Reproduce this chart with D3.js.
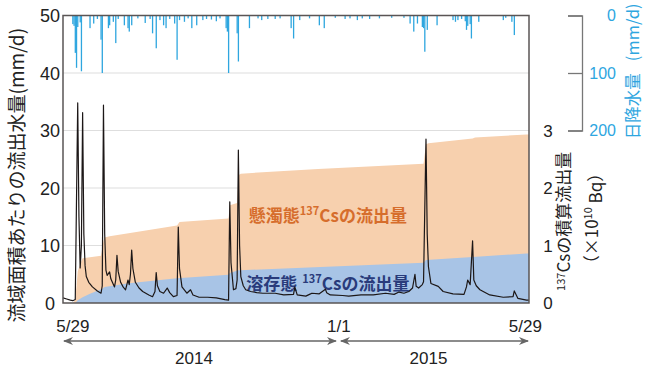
<!DOCTYPE html>
<html>
<head>
<meta charset="utf-8">
<script src="https://cdn.jsdelivr.net/npm/d3@7"></script>
<style>
  body { margin: 0; background: #fff; }
  svg { display: block; }
  text { font-family: "Liberation Sans", Arial, sans-serif; }
  .jp { font-family: "Noto Sans CJK JP", sans-serif; }
</style>
</head>
<body>
<div id="chart"></div>
<script>
// chart size and margins (plot box is 63..529 x 15.5..303)
const width = 650,
      height = 373,
      margin = {top: 15.5, right: 121, bottom: 70, left: 63};

const plotRight = width - margin.right,
      plotBottom = height - margin.bottom;

// day 0 = 2014-05-29
const startDate = new Date(2014, 4, 29);
const firstDay = -8, lastDay = 372;

// daily discharge per catchment area (mm/d), key days
const flowDay = [-8, -5, -2, 0, 2, 4, 5, 6, 7, 8, 9, 10, 11, 13, 16, 20, 23, 24, 25, 26, 27, 28, 30, 31, 34, 35, 36, 37, 39, 41, 43,
  45, 46, 47, 48, 49, 51, 54, 57, 62, 65, 67, 68, 69, 71, 74, 77, 79, 82, 85, 86, 87, 89, 93, 96, 98, 103, 110, 117, 124, 127,
  128, 129, 131, 133, 134, 135, 136, 137, 139, 141, 145, 150, 155, 165, 172, 180, 181, 183, 190, 193, 195, 201, 206, 207, 210,
  220, 225, 235, 245, 255, 262, 266, 270, 274, 277, 279, 280, 282, 285, 286, 288, 289, 290, 292, 298, 302, 310, 319, 321, 322,
  324, 326, 327, 329, 332, 340, 351, 359, 360, 363, 370, 372];
const flowValue = [0.9, 0.7, 0.5, 0.4, 0.6, 34.8, 15, 6.1, 10, 33.1, 12, 6.5, 4.6, 3.6, 2.8, 2.1, 1.7, 3, 34.4, 12, 5.7, 4.8, 5.4, 4.2, 2.8, 4, 8.3, 5.5, 3.6, 2.8, 2.3,
  4, 3.2, 5, 9.2, 6, 3.6, 2.6, 2, 1.4, 1.1, 2, 5.3, 3, 2, 1.7, 2.6, 1.8, 1.1, 1.3, 13.2, 6, 2.8, 1.7, 2.3, 1.4, 1, 1, 0.9, 0.6, 0.5,
  17.6, 7, 2.3, 2.5, 4, 26.6, 10, 4.6, 3, 2.3, 2, 1.8, 1.7, 1.7, 1.4, 1.5, 2.8, 1.4, 1.2, 1.5, 1.7, 1.6, 2.4, 1.8, 1.4,
  1.3, 1.2, 1.4, 1.4, 1.7, 1.5, 1.9, 1.7, 2, 2.6, 5, 2.9, 2.6, 3.2, 3.7, 28.5, 12, 6.3, 3.4, 2.9, 2, 1.6, 1.5, 2.8, 4,
  3.2, 10.8, 4, 3, 2.3, 1.4, 1, 1.1, 2.1, 0.8, 0.5, 0.5];

// cumulative 137Cs outflow (x10^10 Bq): total (suspended + dissolved) and dissolved
const totalDay = [0, 2, 4, 6, 8, 23, 25, 26, 30, 48, 85, 87, 127, 128, 134, 135, 137, 200, 286, 288, 290, 326, 328, 370, 372];
const totalValue = [0, 0.05, 0.55, 0.68, 0.78, 0.82, 1.08, 1.14, 1.16, 1.22, 1.35, 1.41, 1.47, 1.7, 1.74, 2.22, 2.25, 2.33, 2.42, 2.76, 2.78, 2.86, 2.88, 2.93, 2.93];
const dissolvedDay = [2, 4, 8, 14, 24, 26, 44, 85, 127, 128, 135, 137, 286, 288, 326, 370, 372];
const dissolvedValue = [0, 0.05, 0.1, 0.16, 0.25, 0.28, 0.34, 0.43, 0.49, 0.52, 0.57, 0.57, 0.7, 0.75, 0.8, 0.86, 0.86];

// daily precipitation (mm/d)
const rainDay = [0, 1, 2, 3, 4, 6, 7, 14, 17, 20, 23, 24, 29, 30, 33, 35, 37, 42, 45, 46, 48, 53, 59, 63, 65, 68, 71, 74, 76, 79,
  83, 85, 87, 91, 94, 97, 101, 106, 109, 113, 117, 120, 125, 126, 127, 134, 135, 144, 151, 154, 159, 165, 169, 178, 180, 185,
  193, 201, 205, 214, 222, 226, 232, 236, 242, 250, 260, 270, 275, 278, 281, 285, 286, 287, 289, 297, 310, 312, 314, 317, 320,
  321, 322, 324, 325, 331, 351, 353, 358, 360];
const rainValue = [15, 18, 65, 91, 20, 12, 97, 22, 14, 6, 42, 100, 22, 17, 11, 48, 6, 17, 22, 28, 17, 5, 13, 6, 31, 57, 8, 17, 22, 6,
  14, 77, 8, 11, 5, 22, 17, 8, 6, 7, 10, 5, 22, 28, 100, 31, 80, 22, 5, 8, 6, 6, 5, 22, 40, 8,
  5, 17, 22, 4, 6, 5, 8, 5, 6, 5, 4, 4, 14, 28, 14, 20, 22, 63, 25, 17, 8, 11, 8, 6, 10,
  25, 18, 15, 40, 11, 8, 4, 11, 34];

// tick values
const flowTicks = [0, 10, 20, 30, 40, 50];
const csTicks = [0, 1, 2, 3];
const rainTicks = [0, 100, 200];
const dateTicks = ["2014-05-29", "2015-01-01", "2015-05-29"];
const yearLabels = ["2014", "2015"];

const dayToDate = d => d3.timeDay.offset(startDate, d);
const parseDate = d3.timeParse("%Y-%m-%d");

const svg = d3.select("#chart")
  .append("svg")
    .attr("width", width)
    .attr("height", height)
    .attr("viewBox", "0 0 " + width + " " + height);

// scales (absolute page coordinates)
const xScale = d3.scaleTime()
  .domain([dayToDate(firstDay), dayToDate(lastDay)])
  .range([margin.left, plotRight]);

const yFlow = d3.scaleLinear().domain([0, 50]).range([plotBottom, margin.top]);
const yCs = d3.scaleLinear().domain([0, 5]).range([plotBottom, margin.top]);
// precipitation hangs from the top: 0 at top, 200 at the 30 mm/d line
const yRain = d3.scaleLinear().domain([0, 200]).range([margin.top, yFlow(30)]);

// grid lines
svg.append("g")
  .selectAll("line")
  .data(flowTicks.slice(1, -1))
  .enter()
  .append("line")
    .attr("x1", margin.left)
    .attr("x2", plotRight)
    .attr("y1", d => yFlow(d))
    .attr("y2", d => yFlow(d))
    .attr("stroke", "#dedede")
    .attr("stroke-width", 1.2);

// cumulative Cs areas
const totalData = totalDay.map((d, i) => ({date: dayToDate(d), v: totalValue[i]}));
const dissolvedData = dissolvedDay.map((d, i) => ({date: dayToDate(d), v: dissolvedValue[i]}));

const csArea = d3.area()
  .x(d => xScale(d.date))
  .y0(plotBottom)
  .y1(d => yCs(d.v));

svg.append("path")
  .datum(totalData)
  .attr("fill", "#f7d0ae")
  .attr("d", csArea);

svg.append("path")
  .datum(dissolvedData)
  .attr("fill", "#a8c4e6")
  .attr("d", csArea);

// area labels
function csLabel(text1, text2, day, value, color, gap) {
  const t = svg.append("text")
    .attr("class", "jp")
    .attr("x", xScale(dayToDate(day)))
    .attr("y", yFlow(value))
    .attr("text-anchor", "middle")
    .attr("font-size", 17)
    .attr("font-weight", "bold")
    .attr("fill", color);
  t.append("tspan").text(text1);
  t.append("tspan").attr("dx", gap).attr("dy", -7).attr("font-size", 11).text("137");
  t.append("tspan").attr("dy", 7).text(text2);
}
csLabel("懸濁態", "Csの流出量", 208, 14.1, "#d66d2c", 0);
csLabel("溶存態", "Csの流出量", 208, 2.3, "#293b7b", 5);

// discharge line
const flowData = flowDay.map((d, i) => ({date: dayToDate(d), v: flowValue[i]}));
svg.append("path")
  .datum(flowData)
  .attr("fill", "none")
  .attr("stroke", "#1c1717")
  .attr("stroke-width", 1.2)
  .attr("stroke-linejoin", "round")
  .attr("d", d3.line().x(d => xScale(d.date)).y(d => yFlow(d.v)));

// precipitation bars
svg.append("g")
  .selectAll("rect")
  .data(rainDay.map((d, i) => ({date: dayToDate(d), v: rainValue[i]})))
  .enter()
  .append("rect")
    .attr("x", d => xScale(d.date) - 0.6)
    .attr("y", yRain(0))
    .attr("width", 1.3)
    .attr("height", d => yRain(d.v) - yRain(0))
    .attr("fill", "#2ea6df");

// plot frame
svg.append("rect")
  .attr("x", margin.left)
  .attr("y", margin.top)
  .attr("width", plotRight - margin.left)
  .attr("height", plotBottom - margin.top)
  .attr("fill", "none")
  .attr("stroke", "#5a5555")
  .attr("stroke-width", 1.5);

// left tick labels
svg.append("g")
  .selectAll("text")
  .data(flowTicks)
  .enter()
  .append("text")
    .attr("x", margin.left - 13)
    .attr("y", d => yFlow(d) + 6.5)
    .attr("text-anchor", "middle")
    .attr("font-size", 18)
    .attr("fill", "#222")
    .text(d => d);

// right Cs tick labels
svg.append("g")
  .selectAll("text")
  .data(csTicks)
  .enter()
  .append("text")
    .attr("x", plotRight + 19)
    .attr("y", d => yCs(d) + 6)
    .attr("text-anchor", "middle")
    .attr("font-size", 17)
    .attr("fill", "#222")
    .text(d3.format("d"));

// precipitation axis (bracket shaped), labels to the right
const rainX = plotRight + 53;
const rainAxis = svg.append("g")
  .attr("transform", "translate(" + rainX + ",0)")
  .call(d3.axisRight(yRain).tickValues(rainTicks).tickSize(-14).tickFormat(""));
rainAxis.selectAll("path, line").attr("stroke", "#777").attr("stroke-width", 1.3);
svg.append("g")
  .selectAll("text")
  .data(rainTicks)
  .enter()
  .append("text")
    .attr("x", rainX + 34)
    .attr("y", d => yRain(d) + 5.5)
    .attr("text-anchor", "end")
    .attr("font-size", 16)
    .attr("fill", "#2ea6df")
    .text(d => d);

// bottom date labels (the last one is nudged toward the axis end like the original)
const dateFormat = d3.timeFormat("%-m/%-d");
svg.append("g")
  .selectAll("text")
  .data(dateTicks.map(parseDate))
  .enter()
  .append("text")
    .attr("x", d => xScale(d))
    .attr("dx", (d, i) => i == dateTicks.length - 1 ? 5 : 0)
    .attr("y", plotBottom + 29)
    .attr("text-anchor", "middle")
    .attr("font-size", 17)
    .attr("fill", "#222")
    .text(dateFormat);

// year arrows
svg.append("defs").append("marker")
  .attr("id", "arrow")
  .attr("viewBox", "0 0 10 8")
  .attr("markerUnits", "userSpaceOnUse")
  .attr("markerWidth", 10)
  .attr("markerHeight", 8)
  .attr("refX", 9)
  .attr("refY", 4)
  .attr("orient", "auto-start-reverse")
  .append("path")
    .attr("d", "M0,0L10,4L0,8L3,4Z")
    .attr("fill", "#666");

const newYear = parseDate(dateTicks[1]);
const spans = [
  [xScale.domain()[0], newYear, -2],
  [newYear, xScale.domain()[1], 0]
];
spans.forEach(function(s, i) {
  const x1 = xScale(s[0]) + (i == 1 ? 1 : 0),
        x2 = xScale(s[1]) + s[2];
  svg.append("line")
    .attr("x1", x1 + 1)
    .attr("x2", x2 - 1)
    .attr("y1", plotBottom + 38)
    .attr("y2", plotBottom + 38)
    .attr("stroke", "#666")
    .attr("stroke-width", 1.6)
    .attr("marker-start", "url(#arrow)")
    .attr("marker-end", "url(#arrow)");
  svg.append("text")
    .attr("x", (x1 + x2) / 2 - 6)
    .attr("y", plotBottom + 61)
    .attr("text-anchor", "middle")
    .attr("font-size", 17)
    .attr("fill", "#222")
    .text(yearLabels[i]);
});

// axis titles (rotated)
function vTitle(cx, cy, size, color) {
  return svg.append("text")
    .attr("class", "jp")
    .attr("transform", "translate(" + cx + "," + cy + ") rotate(-90)")
    .attr("dy", "0.35em")
    .attr("text-anchor", "middle")
    .attr("font-size", size)
    .attr("fill", color);
}

vTitle(margin.left - 46, yFlow(25) + 16, 19, "#222")
  .text("流域面積あたりの流出水量(mm/d)");

const csTitle = vTitle(plotRight + 39.5, yCs(1.42), 17, "#222");
csTitle.append("tspan").attr("font-size", 11).attr("dy", "-0.3em").text("137");
csTitle.append("tspan").attr("dy", "0.3em").text("Csの積算流出量");

const csUnit = vTitle(plotRight + 63.5, yCs(1.47), 17, "#222");
csUnit.append("tspan").text("（×10");
csUnit.append("tspan").attr("font-size", 11).attr("dy", "-0.6em").text("10");
csUnit.append("tspan").attr("dy", "0.6em").text(" Bq）");

const rainTitle = vTitle(plotRight + 104.5, yRain(97), 16.5, "#2ea6df");
rainTitle.append("tspan").text("日降水量");
rainTitle.append("tspan").attr("dx", 12).text("(mm/d)");
</script>
</body>
</html>
